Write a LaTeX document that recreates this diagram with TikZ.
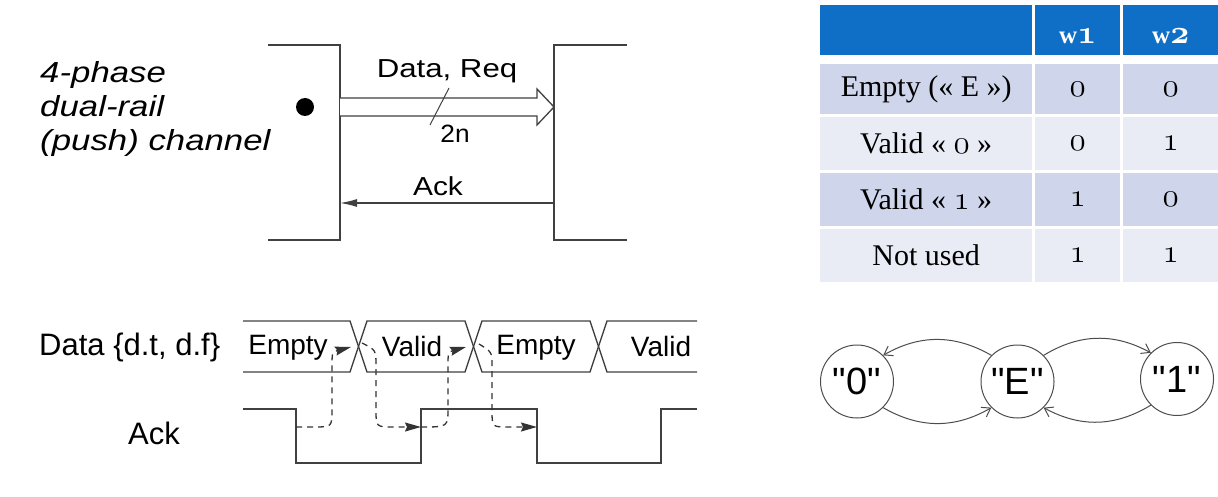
\RequirePackage{fix-cm}
\documentclass[tikz,border=0pt]{standalone}
\usepackage{fontspec}
\usepackage{tikz}
\usetikzlibrary{arrows.meta,calc}
\newfontfamily\arialfont{Liberation Sans}
\newfontfamily\tabfont{Liberation Serif}
\definecolor{hdrblue}{HTML}{0F6FC6}
\definecolor{rowdark}{HTML}{CFD5EA}
\definecolor{rowlight}{HTML}{E9EBF5}
\newcommand{\oldfig}[1]{{\fontsize{33}{34}\selectfont$\mathnormal{#1}$}}
\tikzstyle{wire}=[draw=black!75,line width=1.3pt]
\tikzstyle{sanstext}=[inner sep=0pt,font=\arialfont\fontsize{28}{32}\selectfont]
\tikzstyle{tabcell}=[rectangle,inner sep=0pt,anchor=north west,font=\tabfont\fontsize{30}{32}\selectfont]
\tikzstyle{hdrtext}=[inner sep=0pt,text=white,font=\tabfont\bfseries\boldmath\fontsize{25}{26}\selectfont]
\tikzstyle{statenode}=[draw=black!70,circle,minimum size=73pt,inner sep=0pt,line width=1pt,font=\arialfont\fontsize{38}{40}\selectfont]
\tikzstyle{stedge}=[draw=black!70,line width=1pt,-{Straight Barb[length=8pt,width=11pt]}]
\tikzstyle{handshake}=[draw=black!80,line width=1.3pt,dash pattern=on 6pt off 5pt,-{Stealth[length=16pt,width=9pt,inset=2pt]}]

\begin{document}
\begin{tikzpicture}[x=1pt,y=-1pt]
\useasboundingbox (0,0) rectangle (1218,497);

% channel
\node[sanstext,font=\arialfont\itshape\fontsize{29}{34}\selectfont,align=left,anchor=north west,xscale=1.2] (title) at (40,61) {4-phase\\dual-rail\\(push) channel};
\draw[wire] (268,45) -- (340,45) -- (340,240) -- (268,240);
\draw[wire] (627,45) -- (554,45) -- (554,240) -- (627,240);
\coordinate (snd) at (340,107);
\coordinate (rcv) at (554,107);
\coordinate (sndack) at (340,203);
\coordinate (rcvack) at (554,203);
\fill (305,107) circle (9pt);
\draw[wire,fill=white] ($(snd)+(0,-9)$) -- ($(rcv)+(-17,-9)$) -- ($(rcv)+(-17,-18)$) -- (rcv) -- ($(rcv)+(-17,18)$) -- ($(rcv)+(-17,9)$) -- ($(snd)+(0,9)$);
\draw[wire,line width=1pt] (430,125) -- (449,88);
\draw[wire,-{Latex[length=17pt,width=8pt]}] (rcvack) -- (sndack);
\node[sanstext,font=\arialfont\fontsize{26}{30}\selectfont,xscale=1.2] (datareq) at (447,71) {Data, Req};
\node[sanstext,font=\arialfont\fontsize{25}{30}\selectfont,xscale=1.05] (buswidth) at (455,134) {2n};
\node[sanstext,font=\arialfont\fontsize{26}{30}\selectfont,xscale=1.15] (ack) at (438,186) {Ack};

% timing
\node[sanstext,font=\arialfont\fontsize{31}{34}\selectfont,anchor=west] (datalbl) at (39,347) {Data \{d.t, d.f\}};
\node[sanstext,font=\arialfont\fontsize{31}{34}\selectfont] (acklbl) at (154,433) {Ack};
\draw[wire] (243,321) -- (350,321) -- (367,372) -- (465,372) -- (482,321) -- (590,321) -- (607,372) -- (697,372);
\draw[wire] (243,372) -- (350,372) -- (367,321) -- (465,321) -- (482,372) -- (590,372) -- (607,321) -- (697,321);
\draw[wire] (243,409) -- (296,409) -- (296,463) -- (421,463) -- (421,409) -- (537,409) -- (537,463) -- (661,463) -- (661,409) -- (697,409);
\node[sanstext] (empty1) at (288,348) {Empty};
\node[sanstext] (valid1) at (412,346) {Valid};
\node[sanstext] (empty2) at (536,348) {Empty};
\node[sanstext] (valid2) at (661,346) {Valid};
\coordinate (af1) at (296,427);
\coordinate (ar1) at (421,427);
\coordinate (af2) at (537,427);
\coordinate (x1l) at (351,347);
\coordinate (x1r) at (362,343);
\coordinate (x2l) at (466,347);
\coordinate (x2r) at (479,344);
\draw[handshake] (af1) -- (314,427) .. controls (332,427) .. (332,409) -- (332,368) .. controls (332,352) .. (x1l);
\draw[handshake] (x1r) .. controls (376,350) .. (376,366) -- (376,410) .. controls (376,427) .. (394,427) -- (ar1);
\draw[handshake] (ar1) .. controls (448,427) .. (448,408) -- (448,368) .. controls (448,352) .. (x2l);
\draw[handshake] (x2r) .. controls (492,352) .. (492,366) -- (492,410) .. controls (492,427) .. (508,427) -- (af2);

% encoding table
\node[tabcell,fill=hdrblue,minimum width=212pt,minimum height=50pt] (h0) at (820,5) {};
\node[tabcell,fill=hdrblue,minimum width=85pt,minimum height=50pt] (h1) at (1035,5) {};
\node[tabcell,fill=hdrblue,minimum width=95pt,minimum height=50pt] (h2) at (1123,5) {};
\node[hdrtext,yshift=-6pt] (w1) at (h1.center) {w\oldfig{1}};
\node[hdrtext,yshift=-6pt] (w2) at (h2.center) {w\oldfig{2}};
\node[tabcell,fill=rowdark,minimum width=212pt,minimum height=50pt] (e0) at (820,64) {Empty (« E »)};
\node[tabcell,fill=rowdark,minimum width=85pt,minimum height=50pt] (e1) at (1035,64) {\oldfig{0}};
\node[tabcell,fill=rowdark,minimum width=95pt,minimum height=50pt] (e2) at (1123,64) {\oldfig{0}};
\node[tabcell,fill=rowlight,minimum width=212pt,minimum height=53pt] (z0) at (820,117) {Valid « \oldfig{0} »};
\node[tabcell,fill=rowlight,minimum width=85pt,minimum height=53pt] (z1) at (1035,117) {\oldfig{0}};
\node[tabcell,fill=rowlight,minimum width=95pt,minimum height=53pt] (z2) at (1123,117) {\oldfig{1}};
\node[tabcell,fill=rowdark,minimum width=212pt,minimum height=53pt] (o0) at (820,173) {Valid « \oldfig{1} »};
\node[tabcell,fill=rowdark,minimum width=85pt,minimum height=53pt] (o1) at (1035,173) {\oldfig{1}};
\node[tabcell,fill=rowdark,minimum width=95pt,minimum height=53pt] (o2) at (1123,173) {\oldfig{0}};
\node[tabcell,fill=rowlight,minimum width=212pt,minimum height=53pt] (n0) at (820,229) {Not used};
\node[tabcell,fill=rowlight,minimum width=85pt,minimum height=53pt] (n1) at (1035,229) {\oldfig{1}};
\node[tabcell,fill=rowlight,minimum width=95pt,minimum height=53pt] (n2) at (1123,229) {\oldfig{1}};

% states
\node[statenode] (s0) at (857,381.5) {"0"};
\node[statenode] (sE) at (1017.5,381.5) {"E"};
\node[statenode] (s1) at (1177,379) {"1"};
\draw[stedge] (sE.135) to[bend right=30] (s0.45);
\draw[stedge] (s0.-45) to[bend right=30] (sE.-135);
\draw[stedge] (sE.45) to[bend left=30] (s1.135);
\draw[stedge] (s1.-135) to[bend left=30] (sE.-45);
\end{tikzpicture}
\end{document}
